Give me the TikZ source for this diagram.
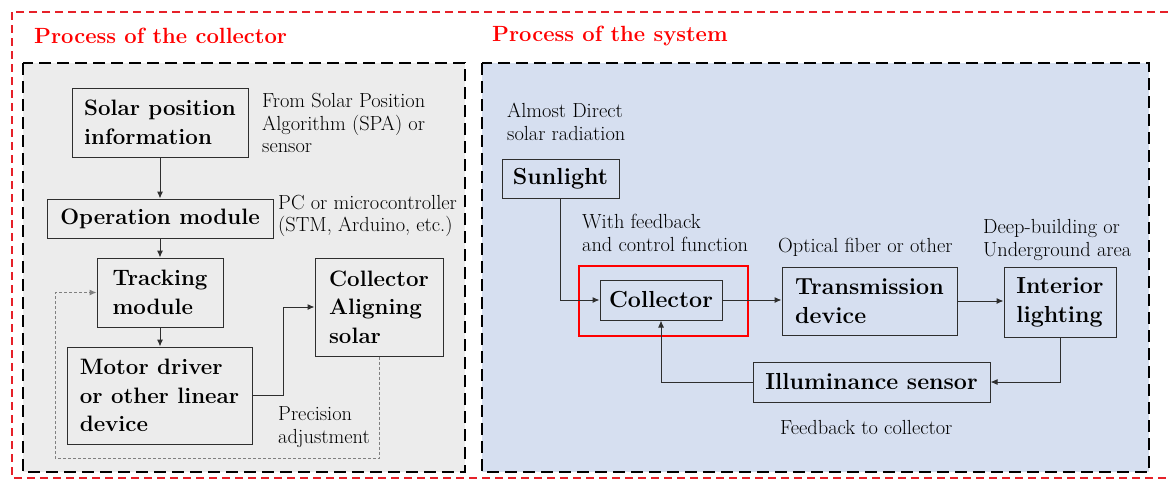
\documentclass[tikz,border=0pt]{standalone}
\usepackage{fontspec}
\usetikzlibrary{arrows.meta}
\definecolor{panelgray}{HTML}{ECECEC}
\definecolor{panelblue}{HTML}{D6DFF0}
\definecolor{hred}{HTML}{FF0000}
\definecolor{dred}{HTML}{E62129}
\definecolor{boxline}{HTML}{2E2E2E}
\definecolor{dotgray}{HTML}{808080}
\tikzset{
  box/.style={draw=boxline, line width=1pt, inner sep=0pt, align=left,
    font=\bfseries\fontsize{22.3}{28.5}\selectfont},
  rbox/.style={box, font=\bfseries\fontsize{23.2}{29}\selectfont},
  note/.style={inner sep=0pt, align=left, anchor=west,
    font=\fontsize{20.4}{22.5}\selectfont},
  head/.style={inner sep=0pt, anchor=west, text=hred,
    font=\bfseries\fontsize{22}{25}\selectfont},
  arr/.style={draw=boxline, line width=1pt, -{Latex[length=7pt,width=6pt]}},
  panel/.style={draw=black, line width=2pt, dash pattern=on 12pt off 6pt},
}
\begin{document}
\begin{tikzpicture}[x=1pt,y=-1pt]
\clip (0,0) rectangle (1168,482);
\fill[white] (0,0) rectangle (1168,482);
% outer red frame
\draw[dred, line width=1.6pt, dash pattern=on 8pt off 5pt] (12,12) rectangle (1190,478);
% panels
\draw[panel, fill=panelgray] (23,63) rectangle (465,472);
\draw[panel, fill=panelblue] (482,63) rectangle (1149,472);
% headings
\node[head] (h1) at (34,36) {Process of the collector};
\node[head] (h2) at (492,36) {Process of the system};

% ---- left panel ----
\node[box, minimum width=176pt, minimum height=69pt] (solar) at (160,122.5) {Solar position\\information};
\node[box, minimum width=226pt, minimum height=39pt] (op) at (160,218.5) {Operation module};
\node[box, minimum width=126pt, minimum height=69pt] (track) at (160,292.5) {Tracking\\module};
\node[box, minimum width=185pt, minimum height=97pt] (motor) at (159.5,395.5) {Motor driver\\or other linear\\device};
\node[box, minimum width=128pt, minimum height=98pt] (calign) at (379,307) {Collector\\Aligning\\solar};

\node[note] (n1) at (262,123) {From Solar Position\\Algorithm (SPA) or\\sensor};
\node[note] (n2) at (278,216) {PC or microcontroller\\(STM, Arduino, etc.)};
\node[note] (n3) at (278,427) {Precision\\adjustment};

\draw[arr] (solar.south) -- (op.north);
\draw[arr] (op.south) -- (track.north);
\draw[arr] (track.south) -- (track.south |- motor.north);
\draw[arr] (motor.east) -- ++(31,0) |- (calign.west);
\coordinate (dl) at (55,458);
\draw[dotgray, line width=1pt, dash pattern=on 3pt off 2pt, -{Latex[length=7pt,width=6pt]}]
  (calign.south) |- (dl) |- (track.west);

% ---- right panel ----
\node[note] (n4) at (507,122) {Almost Direct\\solar radiation};
\node[rbox, minimum width=117pt, minimum height=39pt] (sun) at (560.5,178.5) {Sunlight};
\node[note] (n5) at (582,233) {With feedback\\and control function};
\node[rbox, minimum width=122pt, minimum height=40pt] (coll) at (661,300) {Collector};
\node[draw=red, line width=1.8pt, inner sep=0pt, minimum width=169pt, minimum height=70pt] (hl) at (663.5,301) {};
\node[note] (n6) at (778,247) {Optical fiber or other};
\node[rbox, minimum width=175pt, minimum height=68pt] (trans) at (869.5,301) {Transmission\\device};
\node[note] (n7) at (983,240) {Deep-building or\\Underground area};
\node[rbox, minimum width=112pt, minimum height=70pt] (inter) at (1060,302) {Interior\\lighting};
\node[rbox, minimum width=237pt, minimum height=40pt] (illum) at (871.5,382) {Illuminance sensor};
\node[note] (n8) at (780,427) {Feedback to collector};

\draw[arr] (sun.south) |- (coll.west);
\draw[arr] (coll.east) -- (coll.east -| trans.west);
\draw[arr] (trans.east) -- (trans.east -| inter.west);
\draw[arr] (inter.south) |- (illum.east);
\draw[arr] (illum.west) -| (coll.south);
\end{tikzpicture}
\end{document}
